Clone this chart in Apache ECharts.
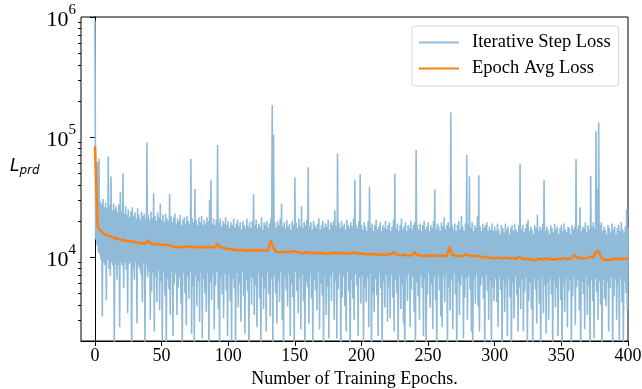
<!DOCTYPE html>
<html>
<head>
<meta charset="utf-8">
<script src="https://cdn.jsdelivr.net/npm/echarts@6/dist/echarts.min.js"></script>
<style>
  html, body { margin: 0; padding: 0; background: #fff; }
  #chart { width: 642px; height: 389px; }
</style>
</head>
<body>
<div id="chart"></div>
<script>
// step loss band, one reading per epoch: high at epoch e, low at e + 0.5
const stepHigh = [
  930000, 30000, 62000, 66000, 29000, 27500, 30500, 26000, 28500, 25500, 69000, 27000, 47000, 24500, 28000, 25000, 26500, 23500, 27500, 35000,
  24000, 50000, 23000, 26500, 22500, 25000, 21500, 24000, 26000, 22000, 23500, 21000, 25500, 22500, 20500, 24000, 22000, 23000, 21000, 90000,
  22500, 20500, 24000, 21000, 34000, 22000, 20000, 23500, 21500, 28000, 20500, 22500, 19500, 23000, 21000, 20000, 33500, 22000, 19500, 21500,
  23000, 19000, 21000, 20000, 22500, 18500, 20500, 21500, 19000, 22000, 20000, 18500, 66000, 21000, 19500, 37000, 20500, 18500, 21500, 19500,
  22000, 18500, 20500, 19000, 21500, 20000, 30000, 44000, 19000, 21000, 18500, 20500, 86000, 19500, 21000, 18000, 20000, 19000, 21500, 18500,
  20000, 17500, 19500, 18500, 21000, 17500, 19000, 20500, 18000, 19500, 17000, 20000, 18500, 17500, 21000, 18000, 19500, 17500, 20000, 33500,
  18500, 20500, 17500, 19000, 18000, 21500, 17000, 19500, 18500, 20000, 17500, 19000, 21000, 185000, 105000, 19500, 17500, 20000, 18500, 21000,
  28000, 18000, 19500, 17500, 20500, 18000, 19000, 17000, 20000, 18500, 46000, 19500, 17500, 21000, 18000, 26500, 17500, 19500, 18500, 20500,
  56000, 18000, 19500, 17000, 20000, 18500, 17500, 19000, 21000, 17000, 18500, 20000, 17500, 19000, 18000, 20500, 17000, 19500, 18500, 20000,
  24500, 18000, 73000, 19500, 17500, 20000, 18000, 19000, 17000, 20500, 18500, 17500, 19500, 18000, 21000, 44000, 18500, 17500, 20000, 49000,
  18500, 17000, 19500, 18000, 16500, 20000, 38500, 17500, 19000, 16500, 18500, 20500, 17000, 18000, 19500, 16500, 18500, 17500, 20000, 17000,
  18500, 19500, 16500, 18000, 20500, 49500, 17500, 19000, 16500, 18500, 21000, 17000, 18000, 19500, 16500, 18500, 17500, 20000, 17000, 18500,
  19500, 78000, 18500, 17000, 19000, 16500, 18500, 20000, 17000, 18000, 19500, 16500, 18500, 17500, 20000, 36500, 17000, 19000, 18000, 16500,
  19500, 18000, 21500, 17000, 18500, 19500, 17500, 160000, 18500, 17000, 19000, 16500, 18500, 20000, 17000, 22000, 18000, 16500, 19000, 71000,
  18500, 47000, 17500, 19500, 16500, 18500, 17500, 22000, 48000, 18000, 16500, 19000, 17500, 18500, 19500, 16500, 18000, 17000, 19000, 16500,
  18000, 16500, 19000, 17000, 15500, 18500, 17500, 16000, 19000, 17000, 18000, 15500, 17500, 18500, 16500, 19000, 17000, 16000, 18500, 60000,
  17000, 18500, 16000, 17500, 19000, 20500, 16500, 18000, 17000, 15500, 18500, 17500, 22500, 16500, 18000, 17000, 19000, 44000, 16500, 18000,
  17000, 15500, 18500, 17500, 16000, 19000, 17000, 18000, 15500, 17500, 18500, 16500, 19000, 17000, 16000, 18000, 17500, 15500, 18500, 17000,
  18000, 65500, 17000, 18500, 26000, 16500, 18000, 17500, 19500, 16000, 18500, 17000, 47500, 18000, 19500, 17500, 112000, 37000, 132000, 18500,
  19500, 16500, 18000, 17000, 15500, 18500, 17500, 16000, 19000, 17000, 18000, 15500, 17500, 18500, 16500, 19500, 17000, 16000, 18000, 25000,
  17500
];
const stepLow = [
  14000, 12500, 11000, 10500, 9500, 3200, 9000, 8500, 4400, 9500, 8000, 7000, 9000, 8500, 1800, 9000, 6500, 8500, 2600, 9000,
  8500, 5500, 9000, 7800, 3400, 8800, 9200, 1500, 8000, 6500, 9000, 2800, 8500, 8000, 7200, 4200, 9000, 1900, 8500, 6800,
  7600, 3000, 5200, 7400, 2400, 6800, 4200, 7800, 3600, 6200, 2000, 7500, 4800, 1700, 6600, 5400, 3300, 7700, 2200, 5900,
  7300, 3300, 5600, 6800, 4100, 1600, 7400, 5000, 2700, 6900, 4500, 7600, 2300, 5700, 1800, 7000, 3900, 6300, 2900, 7500,
  2100, 6600, 5000, 3500, 7400, 1500, 6100, 4400, 7200, 2500, 5800, 7500, 3700, 1700, 6800, 4900, 3100, 7300, 5300, 2200,
  7100, 4300, 2000, 6600, 5500, 1600, 7400, 3800, 6000, 2900, 7600, 4700, 2300, 6400, 5200, 1500, 7000, 4000, 6700, 3300,
  5800, 2600, 7300, 4500, 1800, 6900, 3700, 5500, 2400, 7500, 4900, 3200, 6600, 1500, 7100, 5000, 2800, 6300, 4200, 7600,
  3000, 1700, 6800, 5300, 3900, 7300, 2200, 6000, 4600, 1600, 7500, 5200, 3400, 6700, 2500, 7100, 4300, 1500, 6200, 5600,
  2800, 7200, 4500, 1900, 6500, 5300, 3600, 7600, 2500, 6000, 4800, 1600, 7000, 3300, 5700, 2100, 6800, 4300, 7400, 3000,
  6300, 2100, 5400, 7300, 1500, 4600, 6900, 3900, 2400, 7500, 5200, 1700, 6400, 4500, 3000, 7200, 5800, 2200, 6700, 4100,
  7000, 1800, 5600, 4200, 6800, 2600, 7300, 1500, 5000, 3500, 6600, 4800, 2200, 7200, 5500, 1600, 6300, 3800, 7100, 2900,
  5700, 3100, 7200, 4600, 2400, 6500, 5000, 1900, 7000, 3700, 5900, 2800, 1500, 6800, 4300, 7300, 2600, 5400, 6900, 3500,
  1700, 6200, 4700, 3000, 7100, 5500, 2200, 6600, 1600, 4900, 7300, 3800, 5900, 2500, 6800, 4400, 1500, 7000, 5300, 3200,
  2600, 6900, 4200, 7200, 1900, 5600, 3600, 6500, 2500, 7300, 4900, 1600, 6200, 3300, 5800, 7100, 2100, 4600, 6700, 3000,
  7000, 5400, 2400, 1500, 6600, 4100, 7200, 3900, 2400, 5800, 6800, 4500, 1700, 7100, 5200, 3000, 6400, 1800, 5700, 4300,
  6600, 4200, 2600, 6800, 5300, 1500, 6400, 3500, 5800, 2200, 6700, 4600, 1600, 6100, 3100, 6900, 4800, 2400, 5600, 3700,
  6500, 2400, 5100, 6800, 1900, 4300, 6200, 3700, 1500, 6700, 5400, 2800, 6400, 4100, 1700, 6900, 3400, 5800, 2300, 6100,
  3000, 6600, 4900, 1600, 6300, 3800, 5500, 2200, 6800, 4400, 1500, 6000, 3500, 6700, 2600, 5200, 6400, 1900, 4700, 6800,
  2700, 5600, 6500, 3600, 1600, 6200, 4900, 2500, 6900, 3300, 5800, 1800, 6400, 4300, 2100, 6700, 5100, 3000, 6300, 4000,
  1500, 6600, 4500, 3900, 6200, 2400, 5500, 6800, 1700, 4700, 6500, 3000, 5900, 2000, 6700, 4200, 1800, 6300, 5000, 3600
];
// epoch average loss, every 2 epochs from 0 to 400
const avgLoss = [
  84000, 17800, 16700, 15900, 15300, 15000, 14900, 14500, 14300, 14100,
  13800, 13900, 13600, 13500, 13600, 13300, 13200, 13000, 13100, 13000,
  13900, 12900, 12800, 12900, 12700, 12700, 12600, 12700, 12500, 12300,
  12100, 12000, 12200, 12100, 12200, 12100, 12300, 12100, 12000, 12200,
  12100, 12000, 12100, 12200, 12000, 12100, 12900, 12100, 11900, 11800,
  11700, 11600, 11500, 11500, 11400, 11500, 11300, 11400, 11300, 11500,
  11400, 11300, 11500, 11400, 11300, 11400, 13800, 11900, 11100, 11000,
  11100, 11000, 11000, 11100, 11000, 11200, 11000, 10900, 10700, 10900,
  11000, 10800, 10700, 10900, 10800, 10700, 10800, 10600, 10800, 10700,
  10800, 10900, 10700, 10800, 10700, 10800, 10700, 10900, 10800, 10700,
  10600, 10700, 10500, 10600, 10500, 10600, 10400, 10600, 10500, 10400,
  10600, 10500, 11000, 10600, 10400, 10300, 10500, 10400, 10300, 10400,
  11000, 10400, 10300, 10200, 10300, 10200, 10300, 10400, 10200, 10300,
  10200, 10300, 10200, 12200, 10500, 10300, 10200, 10300, 10100, 10600,
  10400, 10200, 10300, 10100, 10300, 10000, 9900, 10100, 9800, 9900,
  9750, 9900, 9800, 9700, 9900, 9800, 9700, 9800, 9700, 10000,
  9800, 9600, 9700, 9600, 9500, 9450, 9600, 9700, 9500, 9800,
  9600, 9700, 9500, 9700, 9600, 9700, 9800, 9600, 9700, 9800,
  10400, 9800, 9900, 9700, 9800, 9900, 10100, 10000, 11000, 11200,
  9900, 9500, 9450, 9500, 9600, 9700, 9600, 9700, 9750, 9700,
  9750
];
const xTicks = [0, 50, 100, 150, 200, 250, 300, 350, 400];
const yMinorTicks = [3000, 4000, 5000, 6000, 7000, 8000, 9000,
  20000, 30000, 40000, 50000, 60000, 70000, 80000, 90000,
  200000, 300000, 400000, 500000, 600000, 700000, 800000, 900000];

const stepData = [];
stepHigh.forEach(function (h, e) {
  stepData.push([e, h]);
  if (e < stepLow.length) stepData.push([e + 0.5, stepLow[e]]);
});
const avgData = avgLoss.map(function (v, i) { return [i * 2, v]; });

const serif = 'Liberation Serif';
const chart = echarts.init(document.getElementById('chart'));

chart.setOption({
  animation: false,
  grid: {
    left: 81, right: 14, top: 17, bottom: 48,
    outerBoundsMode: 'none',
    show: true, borderColor: '#000', borderWidth: 1, backgroundColor: 'transparent'
  },
  xAxis: {
    type: 'value',
    min: -10.5, max: 400,
    name: 'Number of Training Epochs.',
    nameLocation: 'middle',
    nameGap: 29,
    nameTextStyle: { fontFamily: serif, fontSize: 18, color: '#000' },
    axisLine: { onZero: false, lineStyle: { color: '#000', width: 1 } },
    axisTick: { customValues: xTicks, length: 5, lineStyle: { color: '#000' } },
    axisLabel: { customValues: xTicks, margin: 6, fontFamily: serif, fontSize: 18, color: '#000' },
    splitLine: { show: false }
  },
  yAxis: [{
    type: 'log',
    logBase: 10,
    min: 2000, max: 1000000,
    axisLine: { lineStyle: { color: '#000', width: 1 } },
    axisTick: { length: 5, lineStyle: { color: '#000' } },
    axisLabel: {
      showMinLabel: false,
      margin: 5,
      formatter: function (v) {
        return '{b|10}{s|' + Math.round(Math.log10(v)) + '}';
      },
      rich: {
        b: { fontFamily: serif, fontSize: 22, color: '#000', padding: [6, 0, 0, 0] },
        s: { fontFamily: serif, fontSize: 15, color: '#000', padding: [0, 0, 14, 0] }
      }
    },
    splitLine: { show: false }
  }, {
    // minor tick marks only, in log10 units over the same extent
    type: 'value',
    position: 'left',
    offset: 0,
    min: Math.log10(2000), max: 6,
    axisLine: { show: false },
    axisTick: { show: true, customValues: yMinorTicks.map(Math.log10), length: 3, lineStyle: { color: '#000' } },
    axisLabel: { show: false },
    splitLine: { show: false }
  }],
  legend: {
    orient: 'vertical',
    left: 412, top: 26,
    itemWidth: 40, itemHeight: 14, itemGap: 7,
    padding: [7, 8, 8, 6],
    borderColor: '#d6d6d6', borderWidth: 1, borderRadius: 3,
    backgroundColor: 'rgba(255,255,255,0.8)',
    itemStyle: { opacity: 0 },
    textStyle: { fontFamily: serif, fontSize: 18.5, color: '#000', padding: [0, 0, 0, 8] },
    data: ['Iterative Step Loss', 'Epoch Avg Loss']
  },
  graphic: [{
    type: 'text',
    left: 10, top: 158,
    style: {
      text: '{L|L}{s|prd}',
      rich: {
        L: { fontFamily: 'DejaVu Sans', fontStyle: 'italic', fontSize: 17, fill: '#000', padding: [0, 0, 4, 0] },
        s: { fontFamily: 'DejaVu Sans', fontStyle: 'italic', fontSize: 12, fill: '#000', padding: [5, 0, 0, 0] }
      }
    }
  }],
  series: [{
    name: 'Iterative Step Loss',
    type: 'line',
    data: stepData,
    symbol: 'none',
    silent: true,
    z: 2,
    itemStyle: { color: '#8fbbd9' },
    lineStyle: { color: '#8fbbd9', width: 1.6 }
  }, {
    name: 'Epoch Avg Loss',
    type: 'line',
    data: avgData,
    symbol: 'none',
    silent: true,
    z: 3,
    itemStyle: { color: '#ff7f0e' },
    lineStyle: { color: '#ff7f0e', width: 2.5 }
  }]
});
</script>
</body>
</html>
